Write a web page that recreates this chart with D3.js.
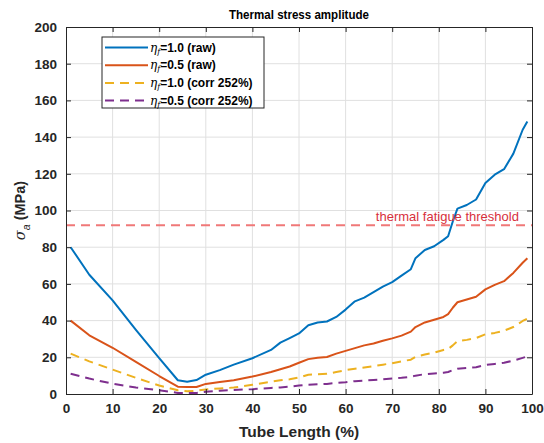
<!DOCTYPE html>
<html>
<head>
<meta charset="utf-8">
<script src="https://cdn.jsdelivr.net/npm/d3@7"></script>
<style>
  html, body { margin: 0; padding: 0; background: #ffffff; }
  svg { display: block; font-family: Arial, "Liberation Sans", sans-serif; }
</style>
</head>
<body>
<svg id="chart" width="544" height="443"></svg>
<script>
// Tube length positions (%) at which the amplitudes are sampled
const tubeLength = [1, 5, 10, 15, 20, 24, 26, 28, 30, 33, 36, 40, 44, 46, 48, 50, 52, 54, 56, 58,
  60, 62, 64, 66, 68, 70, 72, 74, 75, 77, 79, 81, 82, 83, 84, 86, 88, 90, 92, 94, 96, 98, 99];

// Thermal stress amplitude sigma_a (MPa)
const eta10Raw = [80, 65, 51, 35, 19.5, 7.5, 6.7, 7.6, 10.5, 13, 16, 19.5, 24, 28, 30.5, 33, 37.5, 39, 39.5, 42,
  46, 50.5, 52.5, 55.5, 58.5, 61, 64.5, 68, 74, 78.5, 80.5, 84, 86, 94, 101, 103, 106, 115, 119.5, 122.5, 131, 144, 148.5];
const eta05Raw = [40, 32, 25.2, 17.5, 9.8, 4, 3.8, 3.8, 5.5, 6.5, 7.5, 9.5, 12, 13.5, 15, 17, 19, 19.8, 20.2, 22,
  23.5, 25, 26.5, 27.5, 29, 30.3, 31.8, 34, 36.5, 39, 40.5, 42, 43.5, 47, 50, 51.5, 53, 57, 59.5, 61.5, 66, 71.5, 74];
const eta10Corr = [22, 17.8, 13.3, 8.8, 4.6, 2, 1.5, 1.8, 2.5, 3, 3.5, 5, 6.7, 7.5, 8, 9, 10.5, 10.8, 11, 12,
  13, 13.8, 14.5, 15.2, 16, 16.8, 17.8, 18.7, 20.3, 21.5, 22.5, 24, 24.5, 26.5, 28.8, 29.5, 30.5, 32.5, 33.3, 34.5, 36.5, 39.8, 41];
const eta05Corr = [11, 8.4, 5.6, 3.5, 2, 0.6, 0.5, 0.6, 1.2, 1.8, 2.2, 2.6, 3.3, 3.6, 4, 4.6, 5.1, 5.3, 5.5, 6,
  6.4, 7, 7.3, 7.6, 8, 8.5, 8.8, 9.4, 10, 10.8, 11.2, 11.6, 12, 13, 13.8, 14.2, 14.6, 15.8, 16.4, 17, 18.2, 19.7, 20.5];

const thresholdValue = 92;
const thresholdLabel = "thermal fatigue threshold";

const xTicks = [0, 10, 20, 30, 40, 50, 60, 70, 80, 90, 100];
const yTicks = [0, 20, 40, 60, 80, 100, 120, 140, 160, 180, 200];

const seriesNames = ["=1.0 (raw)", "=0.5 (raw)", "=1.0 (corr 252%)", "=0.5 (corr 252%)"];
const seriesColors = ["#0072BD", "#D95319", "#EDB120", "#7E2F8E"];
const seriesDashed = [false, false, true, true];
const seriesValues = [eta10Raw, eta05Raw, eta10Corr, eta05Corr];

const titleText = "Thermal stress amplitude";
const xLabelText = "Tube Length (%)";

// ---- layout ----
const W = 544, H = 443;
const margin = { left: 66, right: 12, top: 27, bottom: 49 };
const innerW = W - margin.left - margin.right;
const innerH = H - margin.top - margin.bottom;
const axisColor = "#262626";

const svg = d3.select("#chart");
svg.append("rect").attr("width", W).attr("height", H).attr("fill", "#ffffff");

const x = d3.scaleLinear().domain([0, 100]).range([margin.left, margin.left + innerW]);
const y = d3.scaleLinear().domain([0, 200]).range([margin.top + innerH, margin.top]);

const plot = svg.append("g");

// grid
plot.append("g")
  .selectAll("line")
  .data(xTicks.slice(1, -1))
  .join("line")
  .attr("x1", d => x(d)).attr("x2", d => x(d))
  .attr("y1", y(0)).attr("y2", y(200))
  .attr("stroke", "#e0e0e0").attr("stroke-width", 1);
plot.append("g")
  .selectAll("line")
  .data(yTicks.slice(1, -1))
  .join("line")
  .attr("x1", x(0)).attr("x2", x(100))
  .attr("y1", d => y(d)).attr("y2", d => y(d))
  .attr("stroke", "#e0e0e0").attr("stroke-width", 1);

// threshold
plot.append("line")
  .attr("x1", x(0)).attr("x2", x(100))
  .attr("y1", y(thresholdValue)).attr("y2", y(thresholdValue))
  .attr("stroke", "#f07878").attr("stroke-width", 2)
  .attr("stroke-dasharray", "9,6");

// series lines
const line = d3.line().x((d, i) => x(tubeLength[i])).y(d => y(d));
seriesValues.forEach((vals, k) => {
  plot.append("path")
    .datum(vals)
    .attr("d", line)
    .attr("fill", "none")
    .attr("stroke", seriesColors[k])
    .attr("stroke-width", 2)
    .attr("stroke-linejoin", "round")
    .attr("stroke-dasharray", seriesDashed[k] ? "9,6" : null);
});

plot.append("text")
  .attr("x", x(97.2))
  .attr("y", y(thresholdValue) - 4)
  .attr("text-anchor", "end")
  .attr("fill", "#d8303c")
  .attr("font-size", 13)
  .text(thresholdLabel);

// axes (box with inward ticks)
const tickLen = 5;
const xAxisB = d3.axisBottom(x).tickValues(xTicks).tickSize(-tickLen).tickPadding(9).tickSizeOuter(0);
const xAxisT = d3.axisTop(x).tickValues(xTicks).tickSize(-tickLen).tickFormat("").tickSizeOuter(0);
const yAxisL = d3.axisLeft(y).tickValues(yTicks).tickSize(-tickLen).tickPadding(9).tickSizeOuter(0);
const yAxisR = d3.axisRight(y).tickValues(yTicks).tickSize(-tickLen).tickFormat("").tickSizeOuter(0);

function styleAxis(g) {
  g.select(".domain").attr("stroke", axisColor).attr("stroke-width", 1);
  g.selectAll(".tick line").attr("stroke", axisColor);
  g.selectAll(".tick text").attr("fill", axisColor).attr("font-size", 13.5).attr("font-weight", "bold")
    .attr("font-family", "Arial, 'Liberation Sans', sans-serif");
}
svg.append("g").attr("transform", `translate(0,${y(0)})`).call(xAxisB).call(styleAxis);
svg.append("g").attr("transform", `translate(0,${y(200)})`).call(xAxisT).call(styleAxis);
svg.append("g").attr("transform", `translate(${x(0)},0)`).call(yAxisL).call(styleAxis);
svg.append("g").attr("transform", `translate(${x(100)},0)`).call(yAxisR).call(styleAxis);

// title
svg.append("text")
  .attr("x", x(50)).attr("y", 19)
  .attr("text-anchor", "middle")
  .attr("font-size", 13.5).attr("font-weight", "bold").attr("fill", "#000")
  .attr("textLength", 140).attr("lengthAdjust", "spacingAndGlyphs")
  .text(titleText);

// x label
svg.append("text")
  .attr("x", x(50)).attr("y", 437)
  .attr("text-anchor", "middle")
  .attr("font-size", 15.5).attr("font-weight", "bold").attr("fill", axisColor)
  .text(xLabelText);

// y label: sigma_a (MPa)
const yl = svg.append("text")
  .attr("transform", `translate(25,${y(100)}) rotate(-90)`)
  .attr("text-anchor", "middle")
  .attr("font-size", 14.5).attr("font-weight", "bold").attr("fill", axisColor);
yl.append("tspan").attr("font-family", "'DejaVu Serif', serif").attr("font-style", "italic")
  .attr("font-weight", "normal").text("σ");
yl.append("tspan").attr("font-style", "italic").attr("font-weight", "normal")
  .attr("font-size", 10.5).attr("dy", 5).text("a");
yl.append("tspan").attr("dy", -5).text(" (MPa)");

// legend
const lg = svg.append("g");
lg.append("rect")
  .attr("x", 102).attr("y", 37).attr("width", 162).attr("height", 71)
  .attr("fill", "#ffffff").attr("stroke", axisColor).attr("stroke-width", 1);
seriesNames.forEach((name, k) => {
  const cy = 47.5 + k * 17.7;
  lg.append("line")
    .attr("x1", 105).attr("x2", 148).attr("y1", cy).attr("y2", cy)
    .attr("stroke", seriesColors[k]).attr("stroke-width", 2)
    .attr("stroke-dasharray", seriesDashed[k] ? "9,6" : null);
  const t = lg.append("text")
    .attr("x", 150).attr("y", cy + 4)
    .attr("font-size", 12).attr("font-weight", "bold").attr("fill", "#000");
  t.append("tspan").attr("font-family", "'DejaVu Serif', serif").attr("font-style", "italic")
    .attr("font-weight", "normal").text("η");
  t.append("tspan").attr("font-family", "'DejaVu Serif', serif").attr("font-style", "italic")
    .attr("font-weight", "normal").attr("font-size", 8).attr("dy", 2).text("f");
  t.append("tspan").attr("dy", -2).text(name);
});
</script>
</body>
</html>
